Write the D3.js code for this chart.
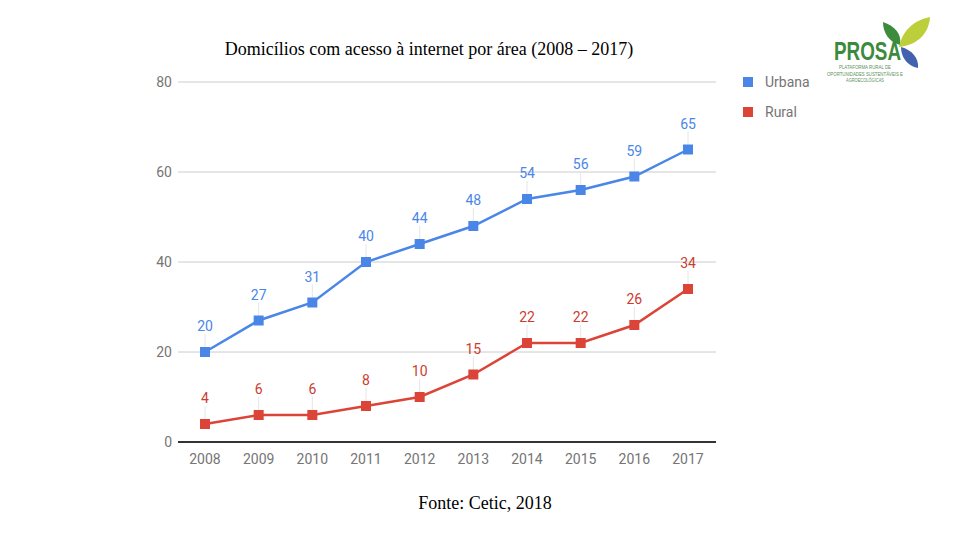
<!DOCTYPE html>
<html><head><meta charset="utf-8">
<script src="https://cdn.jsdelivr.net/npm/d3@7"></script>
<style>body{margin:0;background:#fff}</style>
</head><body>
<svg id="c" width="960" height="540"></svg>
<script>
const years = ["2008","2009","2010","2011","2012","2013","2014","2015","2016","2017"];
const urbana = [20,27,31,40,44,48,54,56,59,65];
const rural = [4,6,6,8,10,15,22,22,26,34];
const yTicks = [0,20,40,60,80];
const seriesNames = ["Urbana","Rural"];
const colors = ["#4a86e8","#db4437"];
const labelColors = ["#4a86e8","#cc3d30"];

const svg = d3.select("#c");
const x = d3.scalePoint().domain(years).range([205,688]);
const y = d3.scaleLinear().domain([0,80]).range([442,82]);

// title
svg.append("text").attr("x",429).attr("y",55).attr("text-anchor","middle")
  .attr("font-family","Liberation Serif").attr("font-size",18).attr("fill","#000")
  .text("Domicílios com acesso à internet por área (2008 – 2017)");
svg.append("text").attr("x",485).attr("y",509).attr("text-anchor","middle")
  .attr("font-family","Liberation Serif").attr("font-size",18).attr("fill","#000")
  .text("Fonte: Cetic, 2018");

// grid
const g = svg.append("g");
g.selectAll("line.grid").data(yTicks.filter(d=>d>0)).join("line")
  .attr("x1",178).attr("x2",716).attr("y1",d=>y(d)).attr("y2",d=>y(d))
  .attr("stroke","#cccccc").attr("stroke-width",1);
g.append("line").attr("x1",178).attr("x2",716).attr("y1",y(0)).attr("y2",y(0))
  .attr("stroke","#333").attr("stroke-width",2);
g.selectAll("text.yt").data(yTicks).join("text")
  .attr("x",172).attr("y",d=>y(d)+5).attr("text-anchor","end")
  .attr("font-family","Roboto").attr("font-size",14).attr("fill","#757575").text(d=>d);
g.selectAll("text.xt").data(years).join("text")
  .attr("x",d=>x(d)).attr("y",464).attr("text-anchor","middle")
  .attr("font-family","Roboto").attr("font-size",14).attr("fill","#757575").text(d=>d);

const data = [urbana, rural];
data.forEach((vals,i)=>{
  const pts = years.map((yr,j)=>({yr, v: vals[j]}));
  const sg = svg.append("g");
  sg.selectAll("line.lead").data(pts).join("line")
    .attr("x1",d=>x(d.yr)).attr("x2",d=>x(d.yr))
    .attr("y1",d=>y(d.v)-18).attr("y2",d=>y(d.v))
    .attr("stroke","#e6e6e6").attr("stroke-width",1);
  sg.append("path").datum(pts)
    .attr("d",d3.line().x(d=>x(d.yr)).y(d=>y(d.v)))
    .attr("fill","none").attr("stroke",colors[i]).attr("stroke-width",2.5);
  sg.selectAll("rect").data(pts).join("rect")
    .attr("x",d=>x(d.yr)-5).attr("y",d=>y(d.v)-5).attr("width",10).attr("height",10)
    .attr("fill",colors[i]);
  sg.selectAll("text").data(pts).join("text")
    .attr("x",d=>x(d.yr)).attr("y",d=>y(d.v)-21).attr("text-anchor","middle")
    .attr("font-family","Roboto").attr("font-size",14).attr("fill",labelColors[i])
    .text(d=>d.v);
});

// legend
seriesNames.forEach((n,i)=>{
  const ly = 82 + i*30;
  svg.append("rect").attr("x",743).attr("y",ly-5).attr("width",10).attr("height",10).attr("fill",colors[i]);
  svg.append("text").attr("x",765).attr("y",ly+5).attr("font-family","Roboto").attr("font-size",14)
    .attr("fill","#757575").text(n);
});

// logo
const lg = svg.append("g");
lg.append("path").attr("d","M883,22 C895,26 902,34 900,45 C889,42 883,33 883,22 Z").attr("fill","#3d8b3d");
lg.append("path").attr("d","M930,17 C929,33 918,45 899,47 C902,31 914,20 930,17 Z").attr("fill","#bccf3b");
lg.append("path").attr("d","M901,47 C912,50 919,58 918,68 C907,66 901,57 901,47 Z").attr("fill","#4460b0");
lg.append("text").attr("x",834).attr("y",60).attr("font-family","Liberation Sans").attr("font-weight","bold")
  .attr("font-size",25).attr("textLength",67).attr("lengthAdjust","spacingAndGlyphs")
  .attr("fill","#3c8a3c").text("PROSA");
[["PLATAFORMA RURAL DE",52],["OPORTUNIDADES SUSTENTÁVEIS E",76],["AGROECOLÓGICAS",38]].forEach((t,i)=>{
  lg.append("text").attr("x",865).attr("y",69+i*6.5).attr("text-anchor","middle")
    .attr("font-family","Liberation Sans").attr("font-size",5).attr("textLength",t[1])
    .attr("lengthAdjust","spacingAndGlyphs").attr("fill","#5a8f5a").text(t[0]);
});
</script>
</body></html>
